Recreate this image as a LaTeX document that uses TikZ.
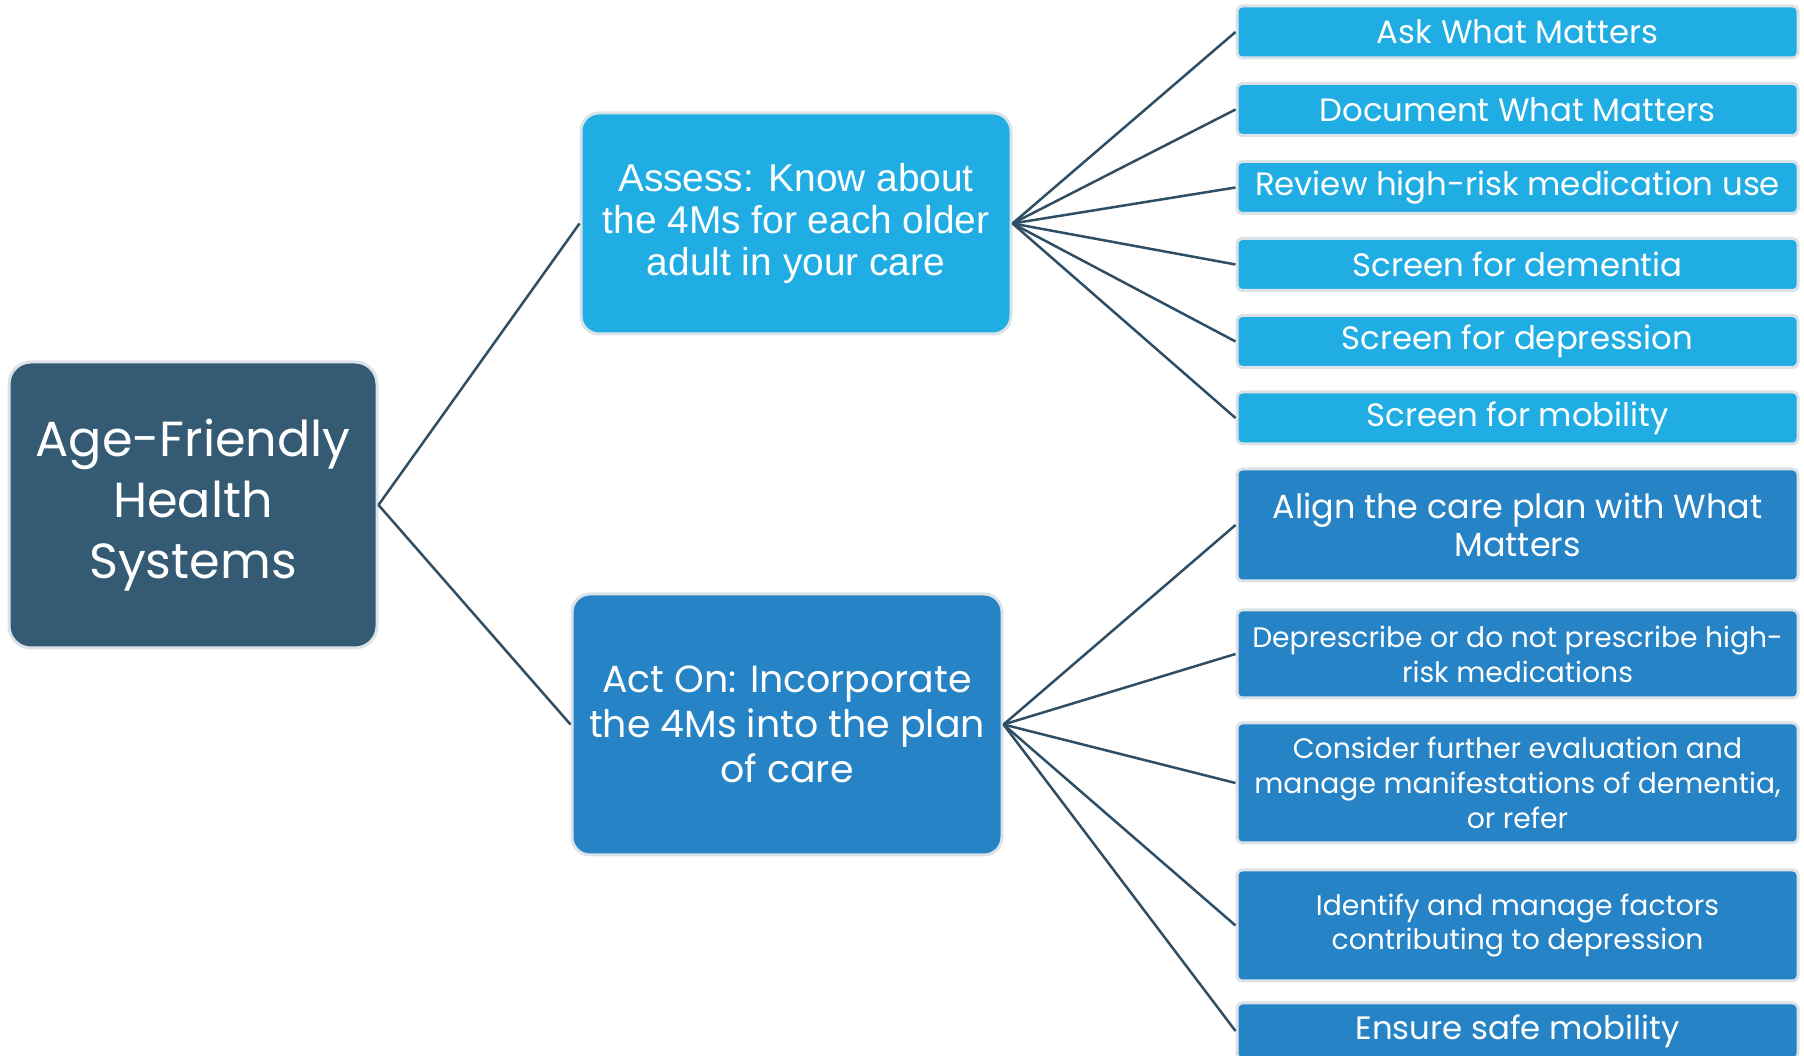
\documentclass[tikz,border=0pt]{standalone}
\usepackage{fontspec}
\newfontfamily\arialfont{Liberation Sans}
\newfontfamily\gothicfont{Poppins}
\definecolor{rootfill}{HTML}{345B73}
\definecolor{assessfill}{HTML}{1FADE4}
\definecolor{actfill}{HTML}{2683C6}
\definecolor{edgecolor}{HTML}{2F4E63}
\definecolor{glow}{HTML}{DCE3E8}
\begin{document}
\begin{tikzpicture}[line join=bevel,
  box/.style={draw=glow,line width=3bp,text=white,inner sep=0pt,align=center},
  rootbox/.style={box,fill=rootfill,rounded corners=22bp,minimum width=368bp,minimum height=286bp,
    font=\gothicfont\fontsize{49.5}{61}\selectfont},
  midbox/.style={box,rounded corners=18bp,minimum width=430bp},
  leafbox/.style={box,rounded corners=5bp,minimum width=561bp},
  lightleaf/.style={leafbox,fill=assessfill,minimum height=52bp,font=\gothicfont\fontsize{32.5}{38}\selectfont},
  darkleaf/.style={leafbox,fill=actfill,font=\gothicfont\fontsize{28.3}{35}\selectfont},
  edge/.style={draw=edgecolor,line width=2.5bp}]
\useasboundingbox (0bp,0bp) rectangle (1804bp,1056bp);
%%
\node (root) at (193bp,551bp) [rootbox] {Age-Friendly\\Health\\Systems};
  \node (assess) at (796bp,832.5bp) [midbox,fill=assessfill,minimum height=221bp,
    font=\arialfont\fontsize{39}{42}\selectfont] {Assess: Know about\\the 4Ms for each older\\adult in your care};
  \node (acton) at (787bp,331.5bp) [midbox,fill=actfill,minimum height=261bp,
    font=\gothicfont\fontsize{38}{45}\selectfont] {Act On: Incorporate\\the 4Ms into the plan\\of care};
%
\node (ask) at (1517.5bp,1024bp) [lightleaf] {Ask What Matters};
  \node (document) at (1517.5bp,946.5bp) [lightleaf] {Document What Matters};
  \node (review) at (1517.5bp,868.5bp) [lightleaf] {Review high-risk medication use};
  \node (dementia) at (1517.5bp,791.5bp) [lightleaf] {Screen for dementia};
  \node (depression) at (1517.5bp,714.5bp) [lightleaf] {Screen for depression};
  \node (mobility) at (1517.5bp,638bp) [lightleaf] {Screen for mobility};
%
\node (align) at (1517.5bp,531bp) [darkleaf,minimum height=112bp,
    font=\gothicfont\fontsize{33.5}{38}\selectfont] {Align the care plan with What\\Matters};
  \node (deprescribe) at (1517.5bp,402bp) [darkleaf,minimum height=88bp] {Deprescribe or do not prescribe high-\\risk medications};
  \node (consider) at (1517.5bp,273bp) [darkleaf,minimum height=120bp] {Consider further evaluation and\\manage manifestations of dementia,\\or refer};
  \node (identify) at (1517.5bp,130.5bp) [darkleaf,minimum height=111bp] {Identify and manage factors\\contributing to depression};
  \node (ensure) at (1517.5bp,25bp) [darkleaf,minimum height=56bp,
    font=\gothicfont\fontsize{32.5}{38}\selectfont] {Ensure safe mobility};
%
\draw [edge] (root.east) -- (assess.west);
  \draw [edge] (root.east) -- (acton.west);
  \draw [edge] (assess.east) -- (ask.west);
  \draw [edge] (assess.east) -- (document.west);
  \draw [edge] (assess.east) -- (review.west);
  \draw [edge] (assess.east) -- (dementia.west);
  \draw [edge] (assess.east) -- (depression.west);
  \draw [edge] (assess.east) -- (mobility.west);
  \draw [edge] (acton.east) -- (align.west);
  \draw [edge] (acton.east) -- (deprescribe.west);
  \draw [edge] (acton.east) -- (consider.west);
  \draw [edge] (acton.east) -- (identify.west);
  \draw [edge] (acton.east) -- (ensure.west);
%
\end{tikzpicture}
\end{document}
